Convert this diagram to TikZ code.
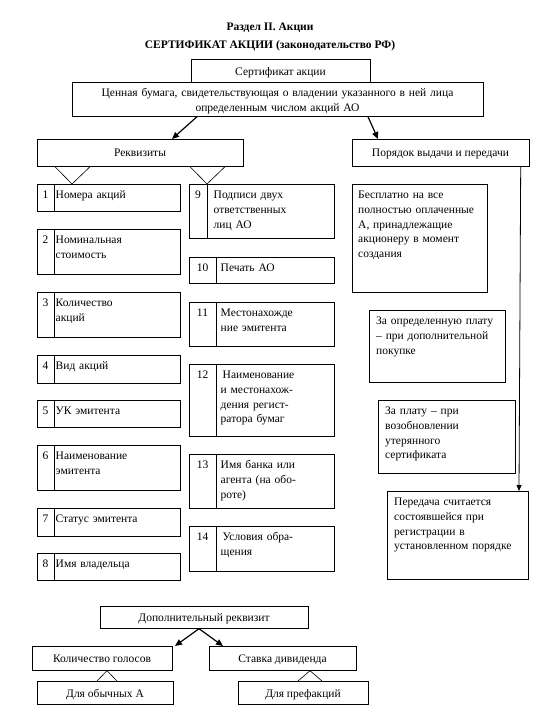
\documentclass[tikz,border=0pt]{standalone}
\usepackage{fontspec}
\setmainfont{Liberation Serif}
\usetikzlibrary{arrows.meta}
\newcommand{\fs}{\fontsize{11.5}{14.8}\selectfont}
\tikzset{
  box/.style={draw, line width=0.7pt, inner sep=0pt, anchor=north west, font=\fs},
  cbox/.style={draw, line width=0.7pt, inner sep=0pt, font=\fs},
  numtxt/.style={anchor=base, inner sep=0pt, font=\fs},
  bodytxt/.style={anchor=base west, inner sep=0pt, font=\fs, text width=200pt, align=left},
  arr/.style={-{Triangle[length=7pt,width=6pt]}, line width=1.2pt},
  varr/.style={-{Triangle[length=6pt,width=5pt]}, line width=0.8pt},
  vline/.style={line width=0.6pt},
  divl/.style={line width=0.7pt}
}
% #1 name, #2 x1, #3 y1, #4 x2, #5 y2, #6 divider x, #7 number, #8 text
\newcommand{\nbox}[8]{%
  \node[box, minimum width={#4-#2}, minimum height={#5-#3}] (#1) at (#2,#3) {};
  \draw[divl] ([xshift={#6-#2}]#1.north west) -- ([xshift={#6-#2}]#1.south west);
  \node[numtxt] (#1n) at ({(#2+#6)/2},{#3+14.5}) {#7};
  \node[bodytxt] (#1t) at ({#6+1.5},{#3+14.5}) {#8};
}
% plain text box: #1 name, #2 x1, #3 y1, #4 x2, #5 y2, #6 text x, #7 text
\newcommand{\tbox}[7]{%
  \node[box, minimum width={#4-#2}, minimum height={#5-#3}] (#1) at (#2,#3) {};
  \node[bodytxt] (#1t) at (#6,{#3+14.5}) {#7};
}
\begin{document}
\begin{tikzpicture}[x=1pt,y=-1pt]
\useasboundingbox (0,0) rectangle (540,720);
\fill[white] (0,0) rectangle (540,720);

% title
\node[anchor=base, inner sep=0pt, font=\fs\bfseries] (t1) at (270,30) {Раздел II. Акции};
\node[anchor=base, inner sep=0pt, font=\fs\bfseries] (t2) at (270,48.5) {СЕРТИФИКАТ АКЦИИ (законодательство РФ)};

% top boxes
\node[box, minimum width=179, minimum height=23] (sert) at (191,59) {};
\node[numtxt] (sertt) at (280.5,75) {Сертификат акции};
\node[box, minimum width=411, minimum height=34] (cen) at (72,82) {};
\node[anchor=base, inner sep=0pt, font=\fs, text width=405pt, align=center] (cent) at (277.5,96.5)
  {Ценная бумага, свидетельствующая о владении указанного в ней лица\\определенным числом акций АО};

\node[box, minimum width=206, minimum height=27] (rekv) at (37,139) {};
\node[numtxt] (rekvt) at (140,156.5) {Реквизиты};
\node[box, minimum width=177, minimum height=27] (pd) at (352,139) {};
\node[numtxt] (pdt) at (440.5,156.5) {Порядок выдачи и передачи};

\draw[arr] ([xshift=125]cen.south west) -- ([xshift=135]rekv.north west);
\draw[arr] ([xshift=296]cen.south west) -- ([xshift=26]pd.north west);

% left column
\nbox{b1}{37}{184}{180}{211}{54}{1}{Номера акций}
\nbox{b2}{37}{229}{180}{274}{54}{2}{Номинальная\\стоимость}
\nbox{b3}{37}{292}{180}{337}{54}{3}{Количество\\акций}
\nbox{b4}{37}{355}{180}{383}{54}{4}{Вид акций}
\nbox{b5}{37}{400}{180}{427}{54}{5}{УК эмитента}
\nbox{b6}{37}{445}{180}{490}{54}{6}{Наименование\\эмитента}
\nbox{b7}{37}{508}{180}{536}{54}{7}{Статус эмитента}
\nbox{b8}{37}{553}{180}{580}{54}{8}{Имя владельца}

% middle column
\nbox{b9}{189}{184}{334}{238}{207}{9}{\hspace*{5pt}Подписи двух\\\hspace*{5pt}ответственных\\\hspace*{5pt}лиц АО}
\nbox{b10}{189}{257}{334}{283}{216}{10}{\hspace*{3pt}Печать АО}
\nbox{b11}{189}{302}{334}{346}{216}{11}{\hspace*{3pt}Местонахожде\\\hspace*{3pt}ние эмитента}
\nbox{b12}{189}{364}{334}{436}{216}{12}{\hspace*{5pt}Наименование\\\hspace*{3pt}и местонахож-\\\hspace*{3pt}дения регист-\\\hspace*{3pt}ратора бумаг}
\nbox{b13}{189}{454}{334}{508}{216}{13}{\hspace*{3pt}Имя банка или\\\hspace*{3pt}агента (на обо-\\\hspace*{3pt}роте)}
\nbox{b14}{189}{526}{334}{571}{216}{14}{\hspace*{5pt}Условия обра-\\\hspace*{3pt}щения}

% V connectors from Реквизиты
\draw[vline] ([xshift=18]rekv.south west) -- ([xshift=35]b1.north west) -- ([xshift=53]rekv.south west);
\draw[vline] ([xshift=153]rekv.south west) -- ([xshift=18]b9.north west) -- ([xshift=188]rekv.south west);

% right column
\tbox{r1}{352}{184}{487}{292}{358}{Бесплатно на все\\полностью оплаченные\\А, принадлежащие\\акционеру в момент\\создания}
\tbox{r2}{369}{310}{505}{382}{376}{За определенную плату\\– при дополнительной\\покупке}
\tbox{r3}{378}{400}{515}{473}{385}{За плату – при\\возобновлении\\утерянного\\сертификата}
\tbox{r4}{387}{491}{528}{579}{394}{Передача считается\\состоявшейся при\\регистрации в\\установленном порядке}

\draw[varr] ([xshift=-9]pd.south east) -- ([xshift=132]r4.north west);

% bottom part
\node[box, minimum width=208, minimum height=22] (dop) at (100,606) {};
\node[numtxt] (dopt) at (204,621) {Дополнительный реквизит};
\node[box, minimum width=140, minimum height=24] (kg) at (32,646) {};
\node[numtxt] (kgt) at (102,662) {Количество голосов};
\node[box, minimum width=147, minimum height=24] (sd) at (209,646) {};
\node[numtxt] (sdt) at (282.5,662) {Ставка дивиденда};
\node[box, minimum width=136, minimum height=23] (oa) at (37,681) {};
\node[numtxt] (oat) at (105,697) {Для обычных А};
\node[box, minimum width=130, minimum height=23] (pa) at (238,681) {};
\node[numtxt] (pat) at (303,697) {Для префакций};

\draw[arr] ([xshift=99]dop.south west) -- ([xshift=143]kg.north west);
\draw[arr] ([xshift=99]dop.south west) -- ([xshift=14]sd.north west);

\draw[vline] ([xshift=60]oa.north west) -- ([xshift=75]kg.south west) -- ([xshift=80]oa.north west);
\draw[vline] ([xshift=60]pa.north west) -- ([xshift=101]sd.south west) -- ([xshift=84]pa.north west);
\end{tikzpicture}
\end{document}
